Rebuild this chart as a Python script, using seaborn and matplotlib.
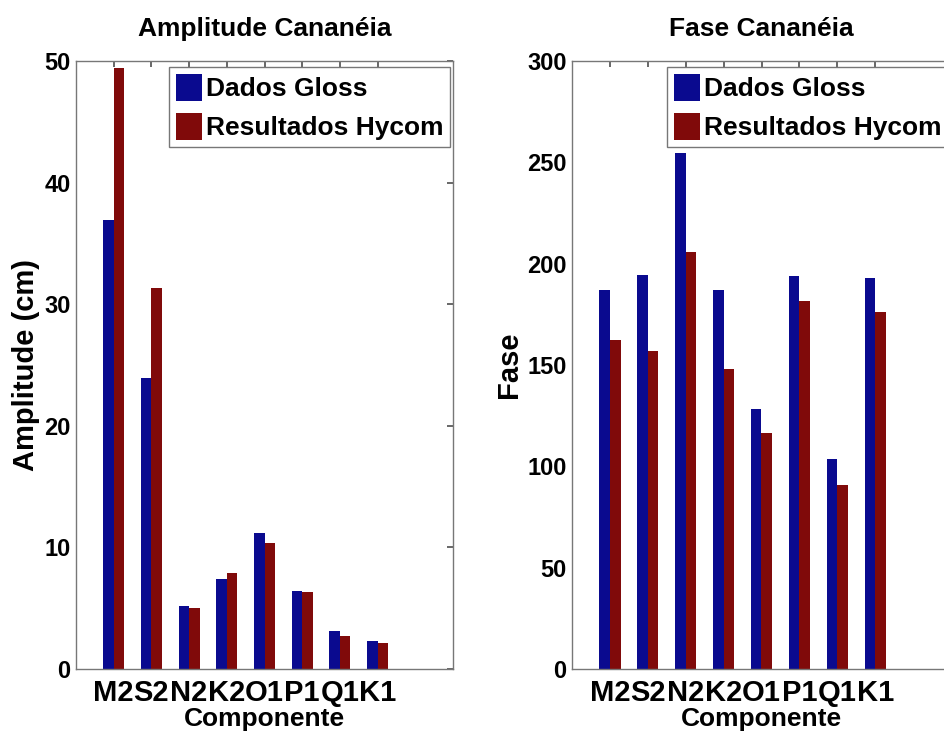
import matplotlib
matplotlib.use("Agg")
import matplotlib.pyplot as plt
import seaborn as sns
import pandas as pd
from matplotlib import font_manager

componentes = ["M2", "S2", "N2", "K2", "O1", "P1", "Q1", "K1"]
amp_gloss = [36.9, 23.9, 5.2, 7.4, 11.15, 6.4, 3.1, 2.3]
amp_hycom = [49.4, 31.3, 5.05, 7.9, 10.4, 6.35, 2.7, 2.15]
fase_gloss = [187, 194.5, 254.5, 187, 128.5, 194, 103.5, 193]
fase_hycom = [162.5, 157, 206, 148, 116.5, 181.5, 91, 176]
series = ["Dados Gloss", "Resultados Hycom"]
colors = ["#0a0a8f", "#800a0a"]

sns.set_theme(style="white")
avail = {f.name for f in font_manager.fontManager.ttflist}
fam = "Liberation Sans Narrow" if "Liberation Sans Narrow" in avail else "Liberation Sans"
plt.rcParams["font.family"] = [fam, "DejaVu Sans"]
plt.rcParams["font.weight"] = "bold"
plt.rcParams["text.color"] = "black"
plt.rcParams["axes.labelcolor"] = "black"
plt.rcParams["xtick.labelcolor"] = "black"
plt.rcParams["ytick.labelcolor"] = "black"

def long_df(a, b):
    return pd.DataFrame({
        "Componente": componentes * 2,
        "valor": list(a) + list(b),
        "serie": [series[0]] * len(componentes) + [series[1]] * len(componentes),
    })

fig = plt.figure(figsize=(9.44, 7.43), dpi=100)
ax1 = fig.add_axes([76 / 944, 74 / 743, 377 / 944, 608 / 743])
ax2 = fig.add_axes([572 / 944, 74 / 743, 379 / 944, 608 / 743])

specs = [
    (ax1, long_df(amp_gloss, amp_hycom), "Amplitude Cananéia", "Amplitude (cm)", 50, [0, 10, 20, 30, 40, 50]),
    (ax2, long_df(fase_gloss, fase_hycom), "Fase Cananéia", "Fase", 300, [0, 50, 100, 150, 200, 250, 300]),
]

for ax, df, title, ylabel, ymax, yt in specs:
    sns.barplot(data=df, x="Componente", y="valor", hue="serie", palette=colors,
                width=0.56, ax=ax, saturation=1, edgecolor="none", linewidth=0)
    ax.set_xlim(-1, 9)
    ax.set_ylim(0, ymax)
    ax.set_yticks(yt)
    ax.set_yticklabels([str(v) for v in yt], fontsize=17, fontweight="bold")
    ax.set_xticks(range(len(componentes)))
    ax.set_xticklabels(componentes, fontsize=21, fontweight="bold")
    ax.tick_params(axis="both", direction="in", length=4, color="#555555",
                   top=True, right=True, pad=4)
    ax.tick_params(axis="x", pad=7)
    for s in ax.spines.values():
        s.set_visible(True)
        s.set_color("#777777")
        s.set_linewidth(1)
    ax.set_title(title, fontsize=19, fontweight="bold", pad=18)
    ax.set_xlabel("Componente", fontsize=19, fontweight="bold", labelpad=0)
    ax.set_ylabel(ylabel, fontsize=21, fontweight="bold", labelpad=3)
    leg = ax.legend(loc="upper right", bbox_to_anchor=(0.993, 0.99), fontsize=19,
                    frameon=True, fancybox=False, framealpha=1, edgecolor="#777777",
                    handlelength=1.0, handleheight=1.2, handletextpad=0.15,
                    borderpad=0.25, labelspacing=0.45, borderaxespad=0)
    leg.get_frame().set_linewidth(1)

fig.savefig("out.png", dpi=100)
